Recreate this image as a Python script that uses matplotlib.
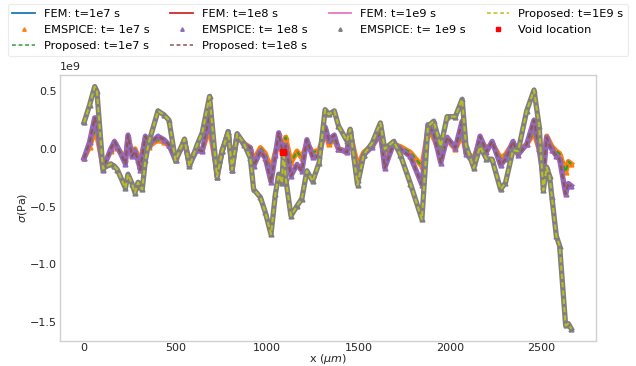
import matplotlib
matplotlib.use("Agg")
import matplotlib.pyplot as plt
from matplotlib.lines import Line2D

# positions along the line (um)
x_um = [0, 30, 58, 70, 103, 146, 166, 182, 226, 240, 262, 278, 295, 307, 318, 335, 353,
        404, 437, 464, 500, 549, 576, 618, 646, 686, 727, 755, 788, 809, 837, 873, 909,
        927, 964, 991, 1022, 1046, 1064, 1082, 1090, 1102, 1131, 1164, 1191, 1218, 1250,
        1285, 1318, 1338, 1368, 1391, 1437, 1455, 1495, 1529, 1575, 1620, 1644, 1693,
        1729, 1784, 1847, 1880, 1911, 1950, 1985, 2030, 2067, 2088, 2131, 2165, 2200,
        2231, 2277, 2304, 2345, 2373, 2420, 2460, 2488, 2511, 2529, 2545, 2558, 2582,
        2600, 2633, 2648, 2664]

# stress (x1e9 Pa) at t = 1e7 s
s_1e7 = [-0.08, 0.02, 0.15, 0.12, -0.14, -0.02, 0.04, 0.01, -0.09, 0.10, -0.05, 0.00,
         -0.07, -0.12, -0.03, 0.09, 0.02, 0.08, 0.06, 0.03, -0.07, 0.05, -0.10, 0.00,
         -0.01, 0.18, -0.20, -0.01, 0.12, -0.13, 0.11, 0.05, 0.01, -0.10, 0.01, -0.04,
         -0.18, -0.03, 0.06, -0.02, 0.04, 0.10, -0.12, -0.02, -0.08, 0.05, -0.03, -0.01,
         0.15, 0.04, 0.08, 0.00, -0.02, 0.14, -0.15, -0.03, 0.03, 0.12, -0.105, 0.04,
         0.02, -0.03, -0.15, 0.15, 0.10, -0.06, 0.08, 0.00, 0.125, -0.02, -0.09, 0.09,
         0.00, 0.05, -0.08, -0.05, 0.05, -0.02, 0.04, 0.14, 0.00, -0.15, 0.11, 0.06,
         0.02, -0.02, -0.04, -0.20, -0.11, -0.13]

# stress (x1e9 Pa) at t = 1e8 s
s_1e8 = [-0.08, 0.06, 0.27, 0.22, -0.18, 0.00, 0.065, 0.02, -0.13, 0.12, -0.065, -0.02,
         -0.10, -0.18, -0.06, 0.11, 0.037, 0.11, 0.08, 0.037, -0.10, 0.065, -0.135, -0.005,
         -0.02, 0.30, -0.24, -0.02, 0.15, -0.18, 0.13, 0.037, 0.01, -0.15, -0.02, -0.08,
         -0.285, -0.05, 0.14, 0.00, -0.05, 0.03, -0.235, -0.135, -0.19, 0.08, -0.07, -0.065,
         0.19, 0.08, 0.12, 0.00, -0.03, 0.165, -0.27, -0.05, 0.02, 0.15, -0.165, 0.05,
         0.00, -0.065, -0.31, 0.21, 0.14, -0.12, 0.10, 0.01, 0.24, -0.04, -0.12, 0.11,
         -0.025, 0.065, -0.14, -0.09, 0.065, -0.05, 0.04, 0.25, 0.00, -0.25, 0.10, 0.03,
         -0.005, -0.06, -0.09, -0.39, -0.30, -0.32]

# stress (x1e9 Pa) at t = 1e9 s
s_1e9 = [0.23, 0.38, 0.54, 0.50, -0.17, -0.13, -0.15, -0.18, -0.34, -0.22, -0.30, -0.38,
         -0.29, -0.33, -0.35, -0.10, 0.05, 0.33, 0.295, 0.25, -0.10, 0.085, -0.15, 0.035,
         0.14, 0.455, -0.24, -0.02, 0.15, -0.18, 0.13, 0.05, -0.08, -0.35, -0.42, -0.55,
         -0.74, -0.39, -0.22, -0.295, -0.02, -0.25, -0.58, -0.495, -0.43, -0.19, -0.28, -0.12,
         0.34, 0.30, 0.33, 0.20, 0.07, 0.17, -0.31, -0.05, 0.05, 0.225, 0.00, 0.065,
         -0.05, -0.30, -0.61, 0.195, 0.24, 0.02, 0.28, 0.28, 0.43, 0.03, -0.165, 0.02,
         -0.085, -0.09, -0.35, -0.295, -0.01, -0.02, 0.33, 0.51, 0.20, -0.36, -0.16, -0.235,
         -0.42, -0.755, -0.84, -1.53, -1.515, -1.56]

void_x = [1090]
void_y = [-0.025]

times = ["1e7", "1e8", "1e9"]
series = [s_1e7, s_1e8, s_1e9]
fem_colors = ["#1f77b4", "#d62728", "#e377c2"]
emspice_colors = ["#ff7f0e", "#9467bd", "#7f7f7f"]
prop_colors = ["#2ca02c", "#8c564b", "#bcbd22"]

plt.rcParams.update({
    "font.family": "DejaVu Sans",
    "font.size": 8,
    "axes.edgecolor": "#d0d0d0",
    "axes.linewidth": 1.0,
    "xtick.color": "#262626",
    "ytick.color": "#262626",
    "axes.labelcolor": "#262626",
    "xtick.major.size": 0,
    "ytick.major.size": 0,
    "xtick.major.pad": 1.5,
    "ytick.major.pad": 2,
})

fig = plt.figure(figsize=(6.36, 3.66), dpi=100)
ax = fig.add_axes([0.0939, 0.0683, 0.8427, 0.7281])

for i, t in enumerate(times):
    ys = [v * 1e9 for v in series[i]]
    ax.plot(x_um, ys, color=fem_colors[i], lw=2.0, zorder=2 + 3 * i)
    ax.plot(x_um, ys, color=emspice_colors[i], lw=3.8, marker="^", ms=3.5,
            zorder=3 + 3 * i, solid_joinstyle="round")
    ax.plot(x_um, ys, color=prop_colors[i], lw=1.5, ls=(0, (2.5, 1.5)),
            zorder=4 + 3 * i)

ax.plot(void_x, [v * 1e9 for v in void_y], "s", color="red", ms=5, zorder=20)

# legend proxies (column-major order with 4 columns)
h_fem = [Line2D([], [], color=c, lw=1.3) for c in fem_colors]
h_em = [Line2D([], [], color=c, marker="^", ls="None", ms=2.5) for c in emspice_colors]
h_pr = [Line2D([], [], color=c, lw=1.1, ls=(0, (2.5, 1.8))) for c in prop_colors]
h_void = Line2D([], [], color="red", marker="s", ls="None", ms=3.5)

leg_handles = [h_fem[0], h_em[0], h_pr[0],
               h_fem[1], h_em[1], h_pr[1],
               h_fem[2], h_em[2],
               h_pr[2], h_void]
leg_labels = ["FEM: t=1e7 s", "EMSPICE: t= 1e7 s", "Proposed: t=1e7 s",
              "FEM: t=1e8 s", "EMSPICE: t= 1e8 s", "Proposed: t=1e8 s",
              "FEM: t=1e9 s", "EMSPICE: t= 1e9 s",
              "Proposed: t=1E9 s", "Void location"]
leg = fig.legend(leg_handles, leg_labels, ncol=4, loc="upper center",
                 bbox_to_anchor=(0.5, 0.995), fontsize=8.2, frameon=True,
                 labelspacing=0.55, columnspacing=1.8, handlelength=2.0,
                 handletextpad=0.8, borderaxespad=0.2)
leg.get_frame().set_edgecolor("#e6e6e6")
leg.get_frame().set_linewidth(0.8)

ax.set_xlabel(r"x ($\mu m$)", labelpad=-1)
ax.set_ylabel(r"$\sigma$(Pa)", labelpad=0.5)
ax.set_xticks([0, 500, 1000, 1500, 2000, 2500])
ax.set_yticks([-1.5e9, -1.0e9, -0.5e9, 0.0, 0.5e9])
ax.grid(False)

fig.savefig("out.png", dpi=100)
